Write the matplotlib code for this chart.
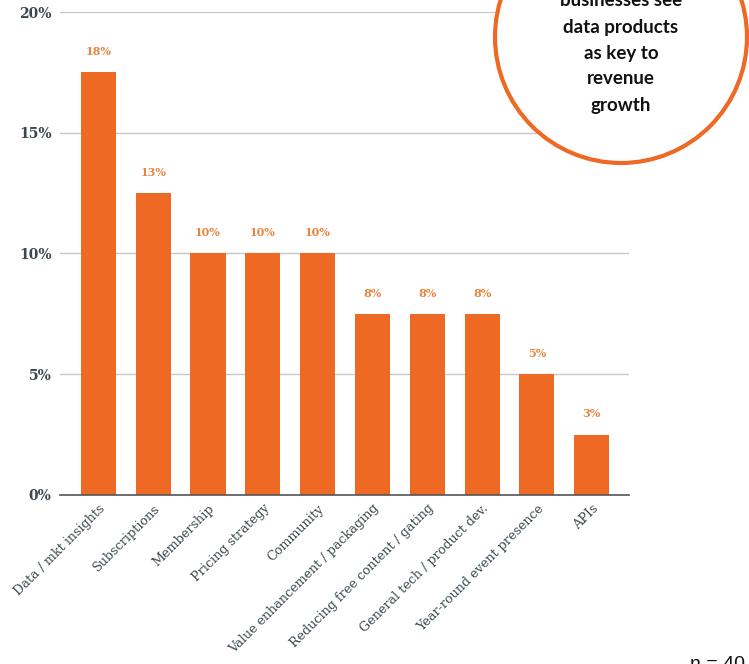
import math
import matplotlib
matplotlib.use("Agg")
import matplotlib.pyplot as plt
from matplotlib.patches import Ellipse

# Share of responses per revenue driver
categories = ["Data / mkt insights", "Subscriptions", "Membership", "Pricing strategy",
              "Community", "Value enhancement / packaging", "Reducing free content / gating",
              "General tech / product dev.", "Year-round event presence", "APIs"]
shares = [17.5, 12.5, 10, 10, 10, 7.5, 7.5, 7.5, 5, 2.5]
y_ticks = [0, 5, 10, 15, 20]
callout_lines = ["businesses see", "data products", "as key to", "revenue", "growth"]
sample_note = "n = 40"

ORANGE = "#EE6A24"
LABEL_ORANGE = "#E8843F"
SLATE = "#3B484E"
W, H = 749, 664

fig = plt.figure(figsize=(W / 100, H / 100), dpi=100)
ax = fig.add_axes([60 / W, 1 - 495 / H, (629 - 60) / W, (495 - 12) / H])

x = list(range(len(categories)))
bars = ax.bar(x, shares, width=0.64, color=ORANGE, zorder=3)

for rect, v in zip(bars, shares):
    txt = f"{math.floor(v + 0.5)}%"
    ax.annotate(txt, (rect.get_x() + rect.get_width() / 2, v), xytext=(0, 11),
                textcoords="offset points", ha="center", va="bottom",
                fontsize=8, fontweight="bold", color=LABEL_ORANGE, family="DejaVu Serif")

ax.set_xlim(-0.70, 9.68)
ax.set_ylim(0, 20)
ax.set_yticks(y_ticks)
ax.set_yticklabels([f"{t}%" for t in y_ticks], family="DejaVu Serif", fontsize=10,
                   fontweight="bold", color=SLATE)
ax.set_xticks(x)
ax.set_xticklabels(categories, rotation=45, ha="right", rotation_mode="anchor",
                   family="DejaVu Serif", fontsize=9.2, color=SLATE)
ax.tick_params(axis="both", length=0)
ax.tick_params(axis="y", pad=6)
ax.tick_params(axis="x", pad=5)
ax.grid(axis="y", color="#C8C8C8", linewidth=1, zorder=0)
for side in ["top", "right", "left"]:
    ax.spines[side].set_visible(False)
ax.spines["bottom"].set_color("#555555")
ax.spines["bottom"].set_linewidth(1.2)
ax.spines["bottom"].set_zorder(4)

# Callout bubble in the top right corner
cx, cy, r = 621, 37, 126
bubble = Ellipse((cx / W, 1 - cy / H), 2 * r / W, 2 * r / H, transform=fig.transFigure,
                 facecolor="white", edgecolor=ORANGE, linewidth=3, zorder=10)
fig.add_artist(bubble)
for i, line in enumerate(callout_lines):
    fig.text(cx / W, 1 - (1 + 26 * i) / H, line, ha="center", va="center",
             family="Lato", fontweight="bold", fontsize=13.5, color="#111111", zorder=11)

fig.text(690 / W, 1 - 656 / H, sample_note, ha="left", va="top",
         family="Liberation Sans", fontsize=14, color="#111111")

fig.savefig("out.png", dpi=100)
